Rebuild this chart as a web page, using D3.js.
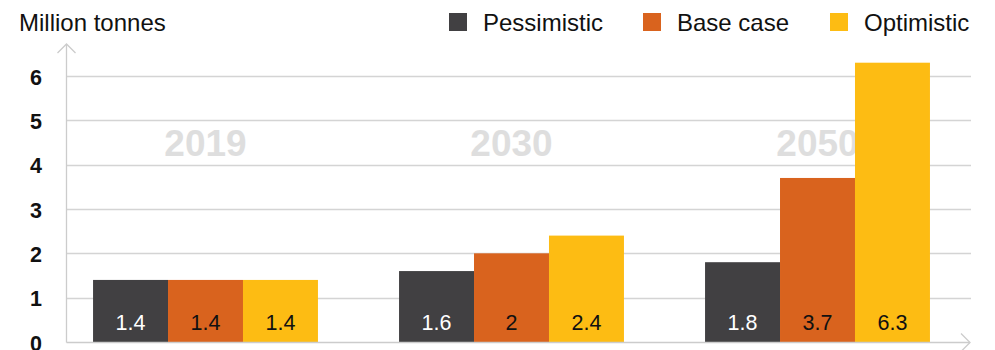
<!DOCTYPE html>
<html>
<head>
<meta charset="utf-8">
<script src="https://cdn.jsdelivr.net/npm/d3@7"></script>
<style>
  html, body { margin: 0; padding: 0; background: #fff; }
  svg { display: block; font-family: "Liberation Sans", Arial, Helvetica, sans-serif; }
</style>
</head>
<body>
<svg id="chart" width="995" height="350"></svg>
<script>
// Production outlook by year and scenario (million tonnes)
const years = ["2019", "2030", "2050"];
const scenarios = ["Pessimistic", "Base case", "Optimistic"];
const pessimistic = [1.4, 1.6, 1.8];
const baseCase = [1.4, 2, 3.7];
const optimistic = [1.4, 2.4, 6.3];
const yTicks = [0, 1, 2, 3, 4, 5, 6];

const seriesValues = [pessimistic, baseCase, optimistic];
const colors = ["#414042", "#d9631e", "#fdbc13"];
const labelColors = ["#ffffff", "#111111", "#111111"];

const svg = d3.select("#chart");

const y = d3.scaleLinear().domain([0, 6]).range([342, 76]);
const x0 = d3.scaleBand().domain(years).range([52.5, 970.5]).paddingInner(0.265).paddingOuter(0.1325);
const x1 = d3.scaleBand().domain(scenarios).range([0, x0.bandwidth()]);

const axisColor = "#cccccc";
const left = 66.5, right = 971;

// horizontal gridlines
svg.append("g").selectAll("line").data(yTicks.filter(d => d > 0)).join("line")
  .attr("x1", left).attr("x2", right)
  .attr("y1", d => Math.round(y(d)) + 0.5).attr("y2", d => Math.round(y(d)) + 0.5)
  .attr("stroke", "#d4d4d4").attr("stroke-width", 1.3);

// y tick labels
svg.append("g").selectAll("text").data(yTicks).join("text")
  .attr("x", 42).attr("y", d => y(d) + 8.5)
  .attr("text-anchor", "end")
  .attr("font-size", 21.5).attr("font-weight", "bold").attr("fill", "#111")
  .text(d => d);

// faint year labels behind the bars
svg.append("g").selectAll("text").data(years).join("text")
  .attr("x", d => x0(d) + x0.bandwidth() / 2)
  .attr("y", 156)
  .attr("text-anchor", "middle")
  .attr("font-size", 37).attr("font-weight", "bold").attr("fill", "#dedede")
  .text(d => d);

// bars
const groups = svg.append("g").selectAll("g").data(years).join("g")
  .attr("transform", d => `translate(${x0(d)},0)`);

groups.selectAll("rect")
  .data((d, i) => scenarios.map((s, j) => ({ s, j, v: seriesValues[j][i] })))
  .join("rect")
  .attr("x", d => x1(d.s))
  .attr("width", x1.bandwidth())
  .attr("y", d => y(d.v))
  .attr("height", d => y(0) - y(d.v))
  .attr("fill", d => colors[d.j]);

groups.selectAll("text")
  .data((d, i) => scenarios.map((s, j) => ({ s, j, v: seriesValues[j][i] })))
  .join("text")
  .attr("x", d => x1(d.s) + x1.bandwidth() / 2)
  .attr("y", 330)
  .attr("text-anchor", "middle")
  .attr("font-size", 21.5)
  .attr("fill", d => labelColors[d.j])
  .text(d => d.v);

// axes with arrowheads
const axes = svg.append("g").attr("stroke", axisColor).attr("stroke-width", 1.3).attr("fill", "none");
axes.append("line").attr("x1", left).attr("x2", left).attr("y1", 44).attr("y2", 342.5);
axes.append("polyline").attr("points", `${left - 9},53 ${left},44 ${left + 9},53`);
axes.append("line").attr("x1", left).attr("x2", 970).attr("y1", 342.5).attr("y2", 342.5);
axes.append("polyline").attr("points", `961,333.5 970,342.5 961,351.5`);

// y-axis unit title
svg.append("text").attr("x", 19).attr("y", 31)
  .attr("font-size", 24).attr("fill", "#111").text("Million tonnes");

// legend
const legendX = [449, 643, 830];
const legend = svg.append("g").selectAll("g").data(scenarios).join("g")
  .attr("transform", (d, i) => `translate(${legendX[i]},13)`);
legend.append("rect").attr("width", 18).attr("height", 18).attr("fill", (d, i) => colors[i]);
legend.append("text").attr("x", 34).attr("y", 18)
  .attr("font-size", 24).attr("fill", "#111").text(d => d);
</script>
</body>
</html>
